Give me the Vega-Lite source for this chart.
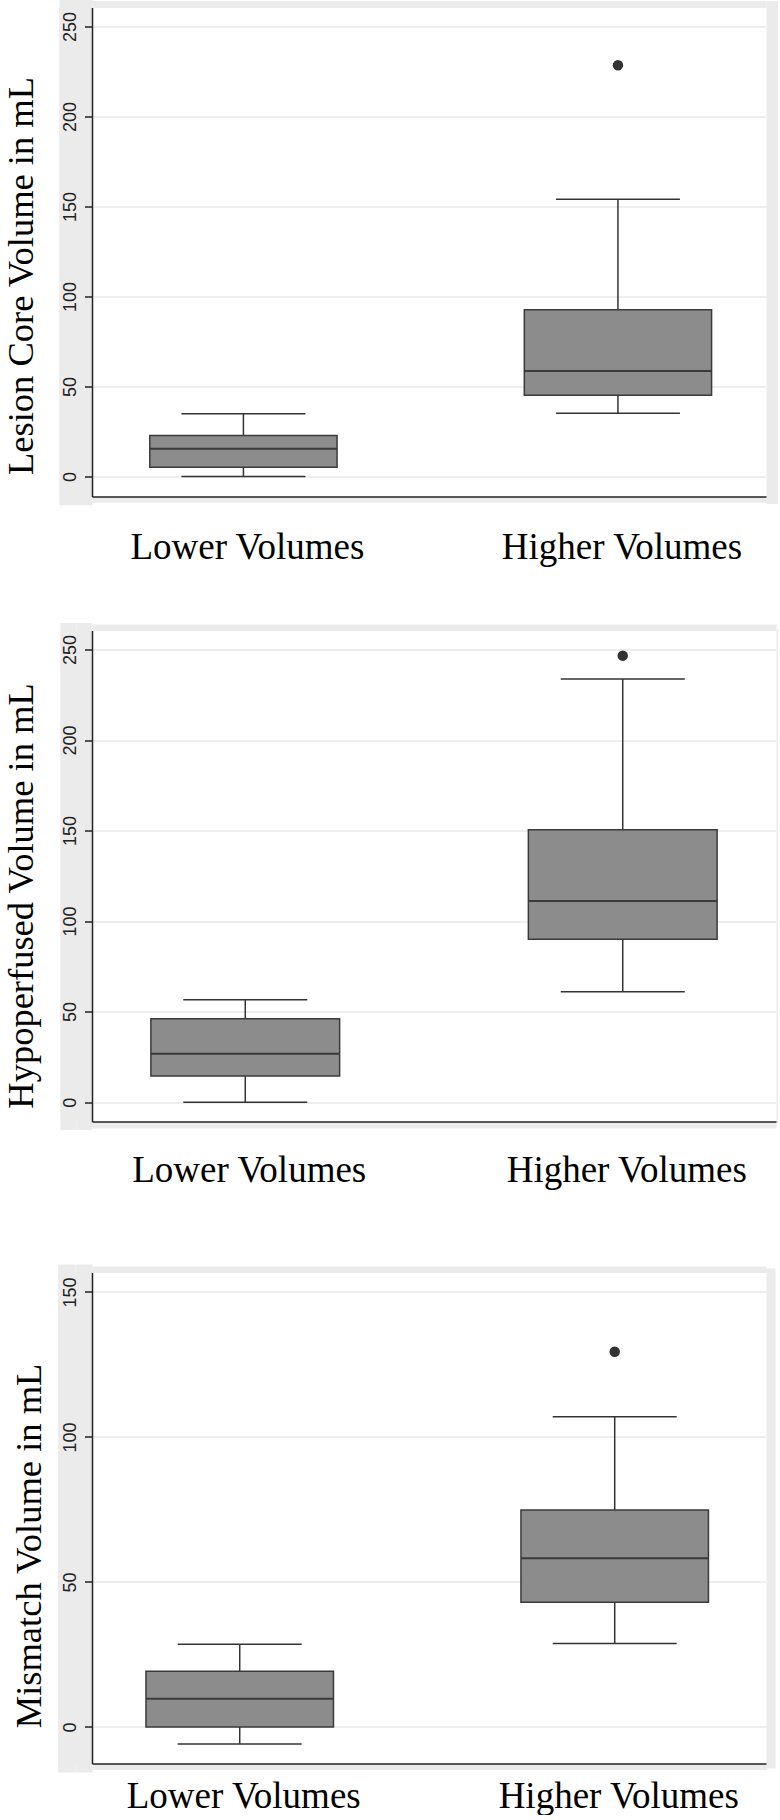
{
  "$schema": "https://vega.github.io/schema/vega-lite/v6.json",
  "background": "white",
  "padding": {"left": 3, "top": 3.5, "right": 0, "bottom": 0},
  "autosize": {"type": "pad"},
  "config": {"view": {"stroke": null}},
  "datasets": {
    "core": [
      {"group": "Lower Volumes", "low": 0, "q1": 5.1, "median": 15.5, "q3": 22.8, "high": 34.9, "outlier": null},
      {"group": "Higher Volumes", "low": 35.1, "q1": 45.1, "median": 58.7, "q3": 92.6, "high": 154, "outlier": 228.5}
    ],
    "hypo": [
      {"group": "Lower Volumes", "low": 0, "q1": 14.4, "median": 26.7, "q3": 46.1, "high": 56.5, "outlier": null},
      {"group": "Higher Volumes", "low": 61, "q1": 90, "median": 111.1, "q3": 150.5, "high": 233.7, "outlier": 246.6}
    ],
    "mism": [
      {"group": "Lower Volumes", "low": -5.9, "q1": 0, "median": 9.7, "q3": 19.2, "high": 28.5, "outlier": null},
      {"group": "Higher Volumes", "low": 28.8, "q1": 43, "median": 58.2, "q3": 74.8, "high": 107, "outlier": 129.4}
    ]
  },
  "spacing": 0,
  "bounds": "flush",
  "vconcat": [
    {
      "width": 674, "height": 489,
      "data": {"name": "core"},
      "resolve": {"axis": {"x": "independent", "y": "independent"}},
      "layer": [
        {"mark": {"type": "rule", "color": "#333333", "strokeWidth": 1.5},
         "encoding": {
           "x": {"field": "group", "type": "nominal", "sort": ["Lower Volumes", "Higher Volumes"], "scale": {"paddingInner": 0.5, "paddingOuter": 0.1498, "align": 0.515, "round": false},
                 "axis": {"orient": "bottom", "title": null, "labelAngle": 0, "labelFont": "Liberation Serif", "labelFontSize": 37, "labelColor": "#000000", "labelLimit": 0, "labelPadding": 33, "labelOffset": 4, "ticks": false, "tickSize": 0, "domainColor": "#222222", "domainWidth": 1.5, "grid": false, "zindex": 2}},
           "y": {"field": "low", "type": "quantitative", "scale": {"domain": [-11.1, 260.6], "nice": false, "zero": false},
                 "axis": {"orient": "left", "values": [0, 50, 100, 150, 200, 250], "grid": false, "title": "Lesion Core Volume in mL", "titleFont": "Liberation Serif", "titleFontSize": 36.5, "titleFontWeight": "normal", "titleColor": "#000000", "titleX": -59.8, "titleY": 268, "titleAngle": 270, "titleAlign": "center", "titleBaseline": "alphabetic", "labelFont": "Liberation Sans", "labelFontSize": 18, "labelColor": "#222222", "labelAngle": 270, "labelAlign": "center", "labelBaseline": "alphabetic", "labelPadding": 9, "tickSize": 7.5, "tickWidth": 1.5, "tickColor": "#222222", "domainColor": "#222222", "domainWidth": 1.5, "zindex": 2}},
           "y2": {"field": "high"}
         }},
        {"mark": {"type": "bar", "fill": "#8c8c8c", "stroke": "#3a3a3a", "strokeWidth": 1.5},
         "encoding": {
           "x": {"field": "group", "type": "nominal", "sort": ["Lower Volumes", "Higher Volumes"], "scale": {"paddingInner": 0.5, "paddingOuter": 0.1498, "align": 0.515, "round": false},
                 "axis": {"orient": "top", "labels": false, "ticks": false, "grid": false, "title": null, "domainColor": "#ebebeb", "domainWidth": 7, "offset": 3.5, "zindex": 0}},
           "y": {"field": "q1", "type": "quantitative", "scale": {"domain": [-11.1, 260.6], "nice": false, "zero": false},
                 "axis": {"orient": "left", "values": [0, 50, 100, 150, 200, 250], "grid": true, "gridColor": "#e8e8e8", "gridWidth": 1.5, "labels": false, "ticks": false, "domain": false, "title": null, "zindex": 0}},
           "y2": {"field": "q3"}
         }},
        {"mark": {"type": "tick", "color": "#3a3a3a", "opacity": 1, "thickness": 2, "size": 187.3},
         "encoding": {
           "x": {"field": "group", "type": "nominal", "sort": ["Lower Volumes", "Higher Volumes"], "scale": {"paddingInner": 0.5, "paddingOuter": 0.1498, "align": 0.515, "round": false},
                 "axis": {"orient": "bottom", "labels": false, "ticks": false, "grid": false, "title": null, "domainColor": "#ebebeb", "domainWidth": 5.7, "offset": 2.85, "zindex": 0}},
           "y": {"field": "median", "type": "quantitative", "scale": {"domain": [-11.1, 260.6], "nice": false, "zero": false},
                 "axis": {"orient": "right", "labels": false, "ticks": false, "grid": false, "title": null, "domainColor": "#ebebeb", "domainWidth": 33, "offset": -690.5, "zindex": 0}}
         }},
        {"mark": {"type": "tick", "color": "#333333", "opacity": 1, "thickness": 1.5, "size": 124},
         "encoding": {
           "x": {"field": "group", "type": "nominal", "sort": ["Lower Volumes", "Higher Volumes"], "scale": {"paddingInner": 0.5, "paddingOuter": 0.1498, "align": 0.515, "round": false}, "axis": null},
           "y": {"field": "low", "type": "quantitative", "scale": {"domain": [-11.1, 260.6], "nice": false, "zero": false},
                 "axis": {"orient": "right", "labels": false, "ticks": false, "grid": false, "title": null, "domainColor": "#ebebeb", "domainWidth": 16.5, "offset": -698.75, "domainCap": "square", "zindex": 0}}
         }},
        {"mark": {"type": "tick", "color": "#333333", "opacity": 1, "thickness": 1.5, "size": 124},
         "encoding": {
           "x": {"field": "group", "type": "nominal", "sort": ["Lower Volumes", "Higher Volumes"], "scale": {"paddingInner": 0.5, "paddingOuter": 0.1498, "align": 0.515, "round": false}, "axis": null},
           "y": {"field": "high", "type": "quantitative", "scale": {"domain": [-11.1, 260.6], "nice": false, "zero": false},
                 "axis": {"orient": "right", "labels": false, "ticks": false, "grid": false, "title": null, "domainColor": "#ebebeb", "domainWidth": 14, "offset": 7, "domainCap": "square", "zindex": 0}}
         }},
        {"mark": {"type": "point", "filled": true, "color": "#333333", "opacity": 1, "size": 110},
         "encoding": {
           "x": {"field": "group", "type": "nominal", "sort": ["Lower Volumes", "Higher Volumes"], "scale": {"paddingInner": 0.5, "paddingOuter": 0.1498, "align": 0.515, "round": false}, "axis": null},
           "y": {"field": "outlier", "type": "quantitative", "scale": {"domain": [-11.1, 260.6], "nice": false, "zero": false},
                 "axis": {"orient": "right", "labels": false, "ticks": false, "grid": false, "title": null, "domainColor": "#ebebeb", "domainWidth": 16.5, "offset": -682.25, "domainCap": "square", "zindex": 0}}
         }}
      ]
    },
    {"width": 674, "height": 133.3, "data": {"values": []}, "mark": "point"},
    {
      "width": 684, "height": 491,
      "data": {"name": "hypo"},
      "resolve": {"axis": {"x": "independent", "y": "independent"}},
      "layer": [
        {"mark": {"type": "rule", "color": "#333333", "strokeWidth": 1.5},
         "encoding": {
           "x": {"field": "group", "type": "nominal", "sort": ["Lower Volumes", "Higher Volumes"], "scale": {"paddingInner": 0.5, "paddingOuter": 0.156, "align": 0.5, "round": false},
                 "axis": {"orient": "bottom", "title": null, "labelAngle": 0, "labelFont": "Liberation Serif", "labelFontSize": 37, "labelColor": "#000000", "labelLimit": 0, "labelPadding": 31, "labelOffset": 4, "ticks": false, "tickSize": 0, "domainColor": "#222222", "domainWidth": 1.5, "grid": false, "zindex": 2}},
           "y": {"field": "low", "type": "quantitative", "scale": {"domain": [-10.7, 260.5], "nice": false, "zero": false},
                 "axis": {"orient": "left", "values": [0, 50, 100, 150, 200, 250], "grid": false, "title": "Hypoperfused Volume in mL", "titleFont": "Liberation Serif", "titleFontSize": 36.5, "titleFontWeight": "normal", "titleColor": "#000000", "titleX": -59.8, "titleY": 265, "titleAngle": 270, "titleAlign": "center", "titleBaseline": "alphabetic", "labelFont": "Liberation Sans", "labelFontSize": 18, "labelColor": "#222222", "labelAngle": 270, "labelAlign": "center", "labelBaseline": "alphabetic", "labelPadding": 9, "tickSize": 7.5, "tickWidth": 1.5, "tickColor": "#222222", "domainColor": "#222222", "domainWidth": 1.5, "zindex": 2}},
           "y2": {"field": "high"}
         }},
        {"mark": {"type": "bar", "fill": "#8c8c8c", "stroke": "#3a3a3a", "strokeWidth": 1.5},
         "encoding": {
           "x": {"field": "group", "type": "nominal", "sort": ["Lower Volumes", "Higher Volumes"], "scale": {"paddingInner": 0.5, "paddingOuter": 0.156, "align": 0.5, "round": false},
                 "axis": {"orient": "top", "labels": false, "ticks": false, "grid": false, "title": null, "domainColor": "#ebebeb", "domainWidth": 6.6, "offset": 3.3, "zindex": 0}},
           "y": {"field": "q1", "type": "quantitative", "scale": {"domain": [-10.7, 260.5], "nice": false, "zero": false},
                 "axis": {"orient": "left", "values": [0, 50, 100, 150, 200, 250], "grid": true, "gridColor": "#e8e8e8", "gridWidth": 1.5, "labels": false, "ticks": false, "domain": false, "title": null, "zindex": 0}},
           "y2": {"field": "q3"}
         }},
        {"mark": {"type": "tick", "color": "#3a3a3a", "opacity": 1, "thickness": 2, "size": 188.7},
         "encoding": {
           "x": {"field": "group", "type": "nominal", "sort": ["Lower Volumes", "Higher Volumes"], "scale": {"paddingInner": 0.5, "paddingOuter": 0.156, "align": 0.5, "round": false},
                 "axis": {"orient": "bottom", "labels": false, "ticks": false, "grid": false, "title": null, "domainColor": "#ebebeb", "domainWidth": 6.4, "offset": 3.2, "zindex": 0}},
           "y": {"field": "median", "type": "quantitative", "scale": {"domain": [-10.7, 260.5], "nice": false, "zero": false},
                 "axis": {"orient": "right", "labels": false, "ticks": false, "grid": false, "title": null, "domainColor": "#ebebeb", "domainWidth": 32, "offset": -700, "zindex": 0}}
         }},
        {"mark": {"type": "tick", "color": "#333333", "opacity": 1, "thickness": 1.5, "size": 124},
         "encoding": {
           "x": {"field": "group", "type": "nominal", "sort": ["Lower Volumes", "Higher Volumes"], "scale": {"paddingInner": 0.5, "paddingOuter": 0.156, "align": 0.5, "round": false}, "axis": null},
           "y": {"field": "low", "type": "quantitative", "scale": {"domain": [-10.7, 260.5], "nice": false, "zero": false},
                 "axis": {"orient": "right", "labels": false, "ticks": false, "grid": false, "title": null, "domainColor": "#ebebeb", "domainWidth": 16, "offset": -708, "domainCap": "square", "zindex": 0}}
         }},
        {"mark": {"type": "tick", "color": "#333333", "opacity": 1, "thickness": 1.5, "size": 124},
         "encoding": {
           "x": {"field": "group", "type": "nominal", "sort": ["Lower Volumes", "Higher Volumes"], "scale": {"paddingInner": 0.5, "paddingOuter": 0.156, "align": 0.5, "round": false}, "axis": null},
           "y": {"field": "high", "type": "quantitative", "scale": {"domain": [-10.7, 260.5], "nice": false, "zero": false},
                 "axis": {"orient": "right", "labels": false, "ticks": false, "grid": false, "title": null, "domainColor": "#ebebeb", "domainWidth": 4, "offset": 2, "domainCap": "square", "zindex": 0}}
         }},
        {"mark": {"type": "point", "filled": true, "color": "#333333", "opacity": 1, "size": 110},
         "encoding": {
           "x": {"field": "group", "type": "nominal", "sort": ["Lower Volumes", "Higher Volumes"], "scale": {"paddingInner": 0.5, "paddingOuter": 0.156, "align": 0.5, "round": false}, "axis": null},
           "y": {"field": "outlier", "type": "quantitative", "scale": {"domain": [-10.7, 260.5], "nice": false, "zero": false},
                 "axis": {"orient": "right", "labels": false, "ticks": false, "grid": false, "title": null, "domainColor": "#ebebeb", "domainWidth": 16, "offset": -692, "domainCap": "square", "zindex": 0}}
         }}
      ]
    },
    {"width": 674, "height": 150.4, "data": {"values": []}, "mark": "point"},
    {
      "width": 674, "height": 491,
      "data": {"name": "mism"},
      "resolve": {"axis": {"x": "independent", "y": "independent"}},
      "layer": [
        {"mark": {"type": "rule", "color": "#333333", "strokeWidth": 1.5},
         "encoding": {
           "x": {"field": "group", "type": "nominal", "sort": ["Lower Volumes", "Higher Volumes"], "scale": {"paddingInner": 0.5, "paddingOuter": 0.1487, "align": 0.484, "round": false},
                 "axis": {"orient": "bottom", "title": null, "labelAngle": 0, "labelFont": "Liberation Serif", "labelFontSize": 37, "labelColor": "#000000", "labelLimit": 0, "labelPadding": 15, "labelOffset": 4, "ticks": false, "tickSize": 0, "domainColor": "#222222", "domainWidth": 1.5, "grid": false, "zindex": 2}},
           "y": {"field": "low", "type": "quantitative", "scale": {"domain": [-12.6, 156.7], "nice": false, "zero": false},
                 "axis": {"orient": "left", "values": [0, 50, 100, 150], "grid": false, "title": "Mismatch Volume in mL", "titleFont": "Liberation Serif", "titleFontSize": 36.5, "titleFontWeight": "normal", "titleColor": "#000000", "titleX": -51.3, "titleY": 273, "titleAngle": 270, "titleAlign": "center", "titleBaseline": "alphabetic", "labelFont": "Liberation Sans", "labelFontSize": 18, "labelColor": "#222222", "labelAngle": 270, "labelAlign": "center", "labelBaseline": "alphabetic", "labelPadding": 9, "tickSize": 7.5, "tickWidth": 1.5, "tickColor": "#222222", "domainColor": "#222222", "domainWidth": 1.5, "zindex": 2}},
           "y2": {"field": "high"}
         }},
        {"mark": {"type": "bar", "fill": "#8c8c8c", "stroke": "#3a3a3a", "strokeWidth": 1.5},
         "encoding": {
           "x": {"field": "group", "type": "nominal", "sort": ["Lower Volumes", "Higher Volumes"], "scale": {"paddingInner": 0.5, "paddingOuter": 0.1487, "align": 0.484, "round": false},
                 "axis": {"orient": "top", "labels": false, "ticks": false, "grid": false, "title": null, "domainColor": "#ebebeb", "domainWidth": 6.4, "offset": 3.2, "zindex": 0}},
           "y": {"field": "q1", "type": "quantitative", "scale": {"domain": [-12.6, 156.7], "nice": false, "zero": false},
                 "axis": {"orient": "left", "values": [0, 50, 100, 150], "grid": true, "gridColor": "#e8e8e8", "gridWidth": 1.5, "labels": false, "ticks": false, "domain": false, "title": null, "zindex": 0}},
           "y2": {"field": "q3"}
         }},
        {"mark": {"type": "tick", "color": "#3a3a3a", "opacity": 1, "thickness": 2, "size": 187.5},
         "encoding": {
           "x": {"field": "group", "type": "nominal", "sort": ["Lower Volumes", "Higher Volumes"], "scale": {"paddingInner": 0.5, "paddingOuter": 0.1487, "align": 0.484, "round": false},
                 "axis": {"orient": "bottom", "labels": false, "ticks": false, "grid": false, "title": null, "domainColor": "#ebebeb", "domainWidth": 6, "offset": 3, "zindex": 0}},
           "y": {"field": "median", "type": "quantitative", "scale": {"domain": [-12.6, 156.7], "nice": false, "zero": false},
                 "axis": {"orient": "right", "labels": false, "ticks": false, "grid": false, "title": null, "domainColor": "#ebebeb", "domainWidth": 34.3, "offset": -691.15, "zindex": 0}}
         }},
        {"mark": {"type": "tick", "color": "#333333", "opacity": 1, "thickness": 1.5, "size": 124},
         "encoding": {
           "x": {"field": "group", "type": "nominal", "sort": ["Lower Volumes", "Higher Volumes"], "scale": {"paddingInner": 0.5, "paddingOuter": 0.1487, "align": 0.484, "round": false}, "axis": null},
           "y": {"field": "low", "type": "quantitative", "scale": {"domain": [-12.6, 156.7], "nice": false, "zero": false},
                 "axis": {"orient": "right", "labels": false, "ticks": false, "grid": false, "title": null, "domainColor": "#ebebeb", "domainWidth": 17.15, "offset": -699.725, "domainCap": "square", "zindex": 0}}
         }},
        {"mark": {"type": "tick", "color": "#333333", "opacity": 1, "thickness": 1.5, "size": 124},
         "encoding": {
           "x": {"field": "group", "type": "nominal", "sort": ["Lower Volumes", "Higher Volumes"], "scale": {"paddingInner": 0.5, "paddingOuter": 0.1487, "align": 0.484, "round": false}, "axis": null},
           "y": {"field": "high", "type": "quantitative", "scale": {"domain": [-12.6, 156.7], "nice": false, "zero": false},
                 "axis": {"orient": "right", "labels": false, "ticks": false, "grid": false, "title": null, "domainColor": "#ebebeb", "domainWidth": 9, "offset": 4.5, "domainCap": "square", "zindex": 0}}
         }},
        {"mark": {"type": "point", "filled": true, "color": "#333333", "opacity": 1, "size": 110},
         "encoding": {
           "x": {"field": "group", "type": "nominal", "sort": ["Lower Volumes", "Higher Volumes"], "scale": {"paddingInner": 0.5, "paddingOuter": 0.1487, "align": 0.484, "round": false}, "axis": null},
           "y": {"field": "outlier", "type": "quantitative", "scale": {"domain": [-12.6, 156.7], "nice": false, "zero": false},
                 "axis": {"orient": "right", "labels": false, "ticks": false, "grid": false, "title": null, "domainColor": "#ebebeb", "domainWidth": 17.15, "offset": -682.575, "domainCap": "square", "zindex": 0}}
         }}
      ]
    }
  ]
}
